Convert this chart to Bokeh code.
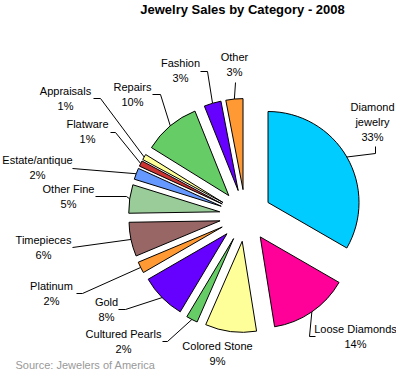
import math
from bokeh.plotting import figure
from bokeh.models import Range1d, ColumnDataSource
from bokeh.core.properties import value
from bokeh.embed import file_html
from bokeh.resources import INLINE

# ---------------- data ----------------
title_text = "Jewelry Sales by Category - 2008"
source_text = "Source: Jewelers of America"
categories = ["Diamond jewelry", "Loose Diamonds", "Colored Stone", "Cultured Pearls",
              "Gold", "Platinum", "Timepieces", "Other Fine", "Estate/antique",
              "Flatware", "Appraisals", "Repairs", "Fashion", "Other"]
shares = [33, 14, 9, 2, 8, 2, 6, 5, 2, 1, 1, 10, 3, 3]
colors = ["#00CCFF", "#FF0099", "#FFFF99", "#66CC66", "#6600FF", "#FF9933",
          "#996666", "#99CC99", "#6699FF", "#CC3333", "#FFFF99", "#66CC66",
          "#6600FF", "#FF9933"]

# ---------------- layout (reference pixel coordinates) ----------------
IMG_H = 387
W, H = 396, 371
CX, CY = 245, 215       # pie centre
R = 91                  # radius
EXPLODE = 26            # explosion offset
FONT = "Liberation Sans"
LINE_STEP = 15
WRAP = {"Diamond jewelry"}

# label centre of first line
label_pos = {
    "Diamond jewelry": (372, 106), "Loose Diamonds": (355, 328),
    "Colored Stone": (217, 345), "Cultured Pearls": (123, 333),
    "Gold": (106, 301), "Platinum": (51, 285), "Timepieces": (43, 239),
    "Other Fine": (68, 188), "Estate/antique": (37, 159), "Flatware": (87, 123),
    "Appraisals": (65, 90), "Repairs": (132, 86), "Fashion": (180, 62),
    "Other": (234, 56),
}
# leader line points on the label side (the slice end is computed)
leader_pts = {
    "Diamond jewelry": [(375, 146), (375, 153)],
    "Loose Diamonds": [(315, 336), (309, 336)],
    "Cultured Pearls": [(162, 341), (167, 341)],
    "Gold": [(118, 309), (125, 309)],
    "Platinum": [(76, 293), (82, 293)],
    "Timepieces": [(72, 247)],
    "Other Fine": [(95, 196), (126, 196)],
    "Estate/antique": [(72, 168)],
    "Flatware": [(110, 132), (115, 132)],
    "Appraisals": [(93, 98), (100, 98)],
    "Repairs": [(152, 94), (160, 94)],
    "Fashion": [(200, 71), (207, 71)],
    "Other": [(235, 82)],
}


def fy(y):
    return IMG_H - y


p = figure(width=W, height=H, output_backend="svg", toolbar_location=None,
           x_range=Range1d(0, W), y_range=Range1d(IMG_H - H, IMG_H),
           x_axis_location=None, y_axis_location=None, min_border=0,
           background_fill_color="white", border_fill_color="white")
p.outline_line_color = None
p.xgrid.visible = False
p.ygrid.visible = False

total = float(sum(shares))
cum = 0.0
wx, wy, sa, ea, mids = [], [], [], [], []
for s in shares:
    t0 = cum / total * 2 * math.pi
    cum += s
    t1 = cum / total * 2 * math.pi
    tm = (t0 + t1) / 2
    mids.append(tm)
    wx.append(CX + EXPLODE * math.sin(tm))
    wy.append(fy(CY) + EXPLODE * math.cos(tm))
    sa.append(math.pi / 2 - t0)
    ea.append(math.pi / 2 - t1)

src = ColumnDataSource(dict(x=wx, y=wy, start=sa, end=ea, color=colors, cat=categories))
p.wedge(x="x", y="y", radius=R, start_angle="start", end_angle="end",
        direction="clock", fill_color="color", line_color="black", line_width=1,
        source=src)

# leader lines
lxs, lys = [], []
for i, c in enumerate(categories):
    if c not in leader_pts:
        continue
    tm = mids[i]
    ex = wx[i] + R * math.sin(tm)
    ey = wy[i] + R * math.cos(tm)
    pts = leader_pts[c]
    lxs.append([q[0] for q in pts] + [ex])
    lys.append([fy(q[1]) for q in pts] + [ey])
p.multi_line(xs=lxs, ys=lys, line_color="black", line_width=1)

# labels
tx, ty, tt = [], [], []
for c, s in zip(categories, shares):
    x0, y0 = label_pos[c]
    lines = c.split(" ") if c in WRAP else [c]
    lines = lines + [f"{s}%"]
    for k, ln in enumerate(lines):
        tx.append(x0)
        ty.append(fy(y0 + k * LINE_STEP))
        tt.append(ln)
p.text(x=tx, y=ty, text=tt, text_font=value(FONT), text_font_size="11px",
       text_align="center", text_baseline="middle", text_color="black")

# title and source
p.text(x=[242], y=[fy(9)], text=[title_text], text_font=value(FONT),
       text_font_size="13px", text_font_style="bold", text_align="center",
       text_baseline="middle", text_color="black")
p.text(x=[15], y=[fy(364)], text=[source_text], text_font=value(FONT),
       text_font_size="11px", text_align="left", text_baseline="middle",
       text_color="#999999")

open("out.html", "w").write(file_html(p, INLINE))
